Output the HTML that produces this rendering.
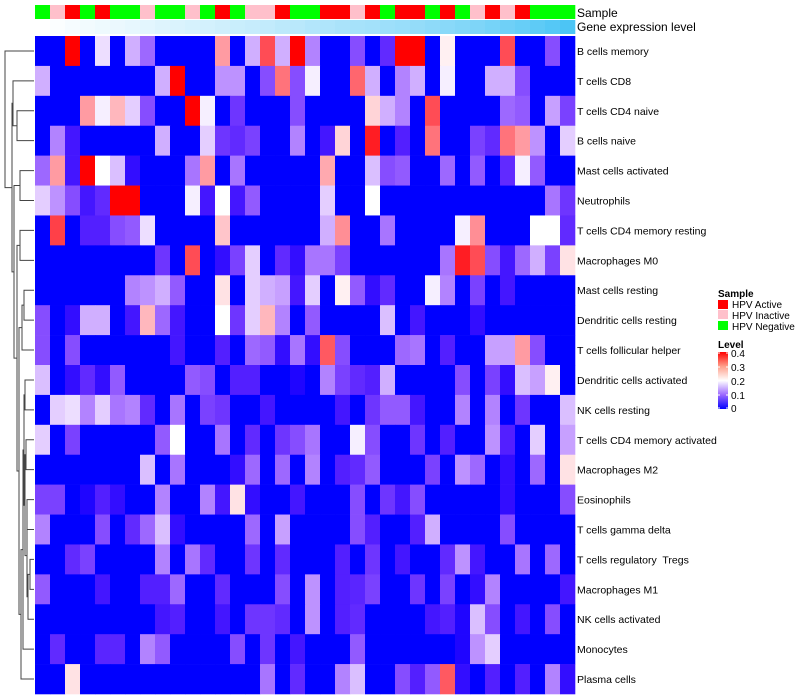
<!DOCTYPE html>
<html><head><meta charset="utf-8">
<style>
html,body{margin:0;padding:0;background:#fff;width:800px;height:700px;overflow:hidden}
svg{display:block;font-family:"Liberation Sans","DejaVu Sans",sans-serif}
</style></head>
<body>
<svg id="chart" width="800" height="700" viewBox="0 0 800 700" xmlns="http://www.w3.org/2000/svg">
  <g id="dendro"></g>
  <g id="annot"></g>
  <g id="cells"></g>
  <g id="rowlabels"></g>
  <text x="577" y="17" font-size="12" fill="#000">Sample</text>
  <text x="577" y="31" font-size="12" fill="#000">Gene expression level</text>
  <g id="legend">
    <text x="718" y="297" font-size="10" font-weight="bold">Sample</text>
    <rect x="718" y="300" width="10" height="9" fill="#ff0000"/>
    <text x="732" y="308" font-size="10">HPV Active</text>
    <rect x="718" y="310" width="10" height="9" fill="#ffc0cb"/>
    <text x="732" y="319" font-size="10">HPV Inactive</text>
    <rect x="718" y="321" width="10" height="9" fill="#00ff00"/>
    <text x="732" y="330" font-size="10">HPV Negative</text>
    <text x="718" y="348" font-size="10" font-weight="bold">Level</text>
    <defs><linearGradient id="lg" x1="0" y1="1" x2="0" y2="0">
      <stop offset="0" stop-color="#0000ff"/><stop offset="0.25" stop-color="#9c68ff"/><stop offset="0.5" stop-color="#ffffff"/><stop offset="0.75" stop-color="#ff9f8a"/><stop offset="1" stop-color="#ff0000"/>
    </linearGradient></defs>
    <rect x="718" y="352" width="10" height="57" fill="url(#lg)"/>
    <g stroke="#fff" stroke-width="1">
      <line x1="718" x2="720" y1="353" y2="353"/><line x1="726" x2="728" y1="353" y2="353"/>
      <line x1="718" x2="720" y1="367" y2="367"/><line x1="726" x2="728" y1="367" y2="367"/>
      <line x1="718" x2="720" y1="381" y2="381"/><line x1="726" x2="728" y1="381" y2="381"/>
      <line x1="718" x2="720" y1="395" y2="395"/><line x1="726" x2="728" y1="395" y2="395"/>
      <line x1="718" x2="720" y1="408" y2="408"/><line x1="726" x2="728" y1="408" y2="408"/>
    </g>
    <g font-size="10">
      <text x="731" y="357">0.4</text><text x="731" y="371">0.3</text><text x="731" y="385">0.2</text><text x="731" y="399">0.1</text><text x="731" y="412">0</text>
    </g>
  </g>
</svg>
<script>
const rowNames = ["B cells memory","T cells CD8","T cells CD4 naive","B cells naive","Mast cells activated","Neutrophils","T cells CD4 memory resting","Macrophages M0","Mast cells resting","Dendritic cells resting","T cells follicular helper","Dendritic cells activated","NK cells resting","T cells CD4 memory activated","Macrophages M2","Eosinophils","T cells gamma delta","T cells regulatory  Tregs","Macrophages M1","NK cells activated","Monocytes","Plasma cells"];
const sampleGroups = ["N","I","A","N","A","N","N","I","N","N","I","N","A","N","I","I","A","N","N","A","A","I","A","N","A","A","N","A","N","I","A","I","A","N","N","N"];
const geneLevel = [0,0.02,0.05,0.07,0.09,0.11,0.13,0.15,0.18,0.2,0.22,0.24,0.26,0.29,0.31,0.33,0.36,0.38,0.41,0.43,0.46,0.48,0.5,0.53,0.55,0.58,0.61,0.64,0.67,0.7,0.74,0.78,0.82,0.87,0.92,0.97];
const r0=[0,0,.4,0,.18,0,.15,.1,0,0,0,0,.27,0,.15,.33,.15,.4,.12,0,0,.08,0,.05,.4,.4,0,.21,0,0,0,.33,0,0,.08,0];
const r1=[.15,0,0,0,0,0,0,0,.15,.4,0,0,.13,.13,0,.08,.3,.08,.19,0,0,.31,.15,0,.12,.15,0,.19,0,0,.15,.15,.08,0,0,0];
const r2=[0,0,0,.27,.19,.25,.17,.08,0,0,.4,.19,0,.06,0,0,0,.08,0,0,0,0,.23,.15,.12,0,.33,0,0,0,0,.1,.09,0,.14,.07];
const r3=[0,.12,.03,0,0,0,0,0,.15,0,0,.17,.06,.05,.07,0,0,.12,0,.03,.23,0,.37,0,.04,0,.3,0,0,.07,.05,.3,.27,.13,0,.17];
const r4=[.1,.27,.03,.4,.2,.16,.02,0,0,0,.11,.27,0,.11,0,0,0,0,0,.26,0,0,.16,.08,.09,0,0,.1,0,.09,0,.05,.19,.09,0,0];
const r5=[.17,.13,.08,.03,.05,.4,.4,0,0,0,.19,.03,.2,.03,.09,0,0,0,0,.17,0,0,.2,0,0,0,0,0,0,0,0,0,0,0,.11,.06];
const r6=[0,.34,0,.04,.04,.08,.09,.18,0,0,0,0,.24,0,0,0,0,0,0,.15,.28,0,0,.11,0,0,0,0,.19,.28,0,0,0,.2,.2,.05];
const r7=[0,0,0,0,0,0,0,0,.06,0,.33,0,.02,.07,.17,0,.05,.02,.11,.11,.07,0,0,0,0,0,0,.11,.37,.33,.08,.03,.1,.15,.07,.22];
const r8=[0,0,0,0,0,0,.12,.13,.15,.09,0,0,.22,0,.17,.15,.14,.03,.17,0,.21,.09,.02,.05,0,0,.19,.12,0,.07,0,.03,0,0,0,0];
const r9=[.08,0,.02,.15,.15,0,.03,.25,.1,.03,0,0,.2,.06,.17,.25,.12,0,.09,0,0,0,0,.16,0,.03,0,0,0,.02,0,0,0,0,0,0];
const r10=[.08,0,.08,0,0,0,0,0,0,.03,0,0,.04,0,.1,.09,.02,.11,.02,.32,.08,0,0,0,.1,.11,0,.04,0,0,.14,.14,.27,.08,0,0];
const r11=[.16,0,.02,.05,.02,.09,0,0,0,0,.09,.08,0,.04,.04,0,0,.01,0,.12,.07,.05,.04,.15,0,0,0,0,.08,0,.07,.02,.16,.14,.21,0];
const r12=[0,.17,.18,.12,.17,.11,.12,.05,0,.11,0,.07,.06,0,0,.03,0,0,0,0,.03,0,.06,.09,.09,.03,0,0,.12,0,.12,0,.06,0,0,.16];
const r13=[.17,0,.07,0,0,0,0,0,.09,.2,0,0,.11,0,.05,0,.06,.08,.11,0,0,.19,.08,0,0,.06,0,.04,0,0,.13,.04,0,.17,0,.14];
const r14=[0,0,0,0,0,0,0,.16,0,.11,0,0,0,.02,.1,0,.1,0,.12,0,.04,.05,.09,0,0,0,.07,0,.13,.1,0,.02,0,.1,0,.22];
const r15=[.07,.07,0,.01,.04,.02,0,0,.12,0,0,.12,.03,.22,.02,0,0,.03,0,0,0,.08,0,.06,.03,.08,0,0,0,0,0,.02,0,0,0,.08];
const r16=[.12,0,0,0,.08,0,.05,.1,.16,.02,0,0,0,0,.1,0,.14,0,0,0,0,.08,.04,0,0,.04,.15,0,0,0,0,.08,0,0,0,0];
const r17=[0,0,.05,.07,0,0,0,0,.12,0,.11,.05,0,0,.06,0,.05,0,0,0,.04,0,.06,0,.03,0,0,.05,.13,.03,0,0,.11,0,.1,0];
const r18=[.09,0,0,0,.03,0,0,.04,.04,.1,0,0,.05,0,0,0,.08,0,.13,0,.04,.045,.07,0,0,.06,0,.07,0,.02,.12,0,0,0,0,.03];
const r19=[0,0,0,0,0,0,0,0,.03,.04,0,0,.03,0,.06,.06,.05,0,.13,0,.04,.05,0,0,0,0,.03,.04,.01,.16,.08,0,.03,0,.08,0];
const r20=[0,.05,0,0,.045,.045,0,.12,.09,0,0,0,0,.08,0,.06,0,.03,0,0,0,.09,0,0,0,0,0,0,.01,.13,.17,0,0,0,0,0];
const r21=[0,0,.22,0,0,0,0,0,0,0,0,0,0,0,0,.11,0,.05,0,0,.12,.16,0,0,.08,.04,.09,.32,.02,0,.04,0,.04,0,.12,.02];
const matrix=[r0,r1,r2,r3,r4,r5,r6,r7,r8,r9,r10,r11,r12,r13,r14,r15,r16,r17,r18,r19,r20,r21];

const NS="http://www.w3.org/2000/svg";
const X0=35, X1=575, Y0=36, Y1=694;
const nCols=sampleGroups.length, nRows=rowNames.length;
const cw=(X1-X0)/nCols, rh=(Y1-Y0)/nRows;
function xPos(c){return X0+c*cw;}
function yPos(r){return Y0+r*rh;}
function levelColor(v){
  const t=Math.max(0,Math.min(1,v/0.4));
  let r,g,b;
  if(t<0.5){const u=t/0.5;r=255*Math.pow(u,0.7);g=255*Math.pow(u,1.3);b=255;}
  else{const u=(t-0.5)/0.5;r=255;g=255*Math.pow(1-u,1.15);b=255*Math.pow(1-u,1.05);}
  return `rgb(${Math.round(r)},${Math.round(g)},${Math.round(b)})`;
}
const groupColor={A:"#ff0000",I:"#ffc0cb",N:"#00ff00"};
function geneColor(t){
  return `rgb(${Math.round(255-185*t)},${Math.round(255-60*t)},${Math.round(255-10*t)})`;
}
function mk(tag,attrs,parent){const e=document.createElementNS(NS,tag);for(const k in attrs)e.setAttribute(k,attrs[k]);parent.appendChild(e);return e;}

const annot=document.getElementById('annot');
sampleGroups.forEach((g,c)=>{
  const el=mk('rect',{x:xPos(c),y:5,width:cw+0.3,height:14,fill:groupColor[g]},annot);
  
  
});
geneLevel.forEach((v,c)=>{
  const el=mk('rect',{x:xPos(c),y:20,width:cw+0.3,height:14,fill:geneColor(v)},annot);
  
  
});

const cells=document.getElementById('cells');
matrix.forEach((row,r)=>{
  row.forEach((v,c)=>{
    const el=mk('rect',{x:xPos(c),y:yPos(r),width:cw+0.3,height:rh+0.3,fill:levelColor(v)},cells);
    
    
  });
});

const rl=document.getElementById('rowlabels');
rowNames.forEach((n,r)=>{
  const el=mk('text',{x:577,y:yPos(r)+rh/2+4,'font-size':'10.5',fill:'#000','xml:space':'preserve',style:'white-space:pre'},rl);
  el.textContent=n;
  
  
});

const merges=[[2,3,17],[1,'m0',13],[4,5,20],[6,7,20],[8,9,24],['m4',10,22],[11,12,25],[13,14,26],[15,16,27],[17,18,30],['m9',19,28],['m8','m10',27],['m7','m11',25],['m6','m12',24],['m13',20,23],['m14',21,21],['m5','m15',19],['m3','m16',17],['m2','m17',14],['m1','m18',12],[0,'m19',5]];
const dg=document.getElementById('dendro');
const nodePos={};
function pos(k){if(typeof k==='number')return {x:34,y:yPos(k)+rh/2};return nodePos[k];}
merges.forEach((m,i)=>{
  const a=pos(m[0]),b=pos(m[1]),x=m[2];
  const p=mk('path',{d:`M${a.x},${a.y}H${x}V${b.y}H${b.x}`,fill:'none',stroke:'#444','stroke-width':'1'},dg);
  
  
  nodePos['m'+i]={x:x,y:(a.y+b.y)/2};
});
</script>
</body></html>
